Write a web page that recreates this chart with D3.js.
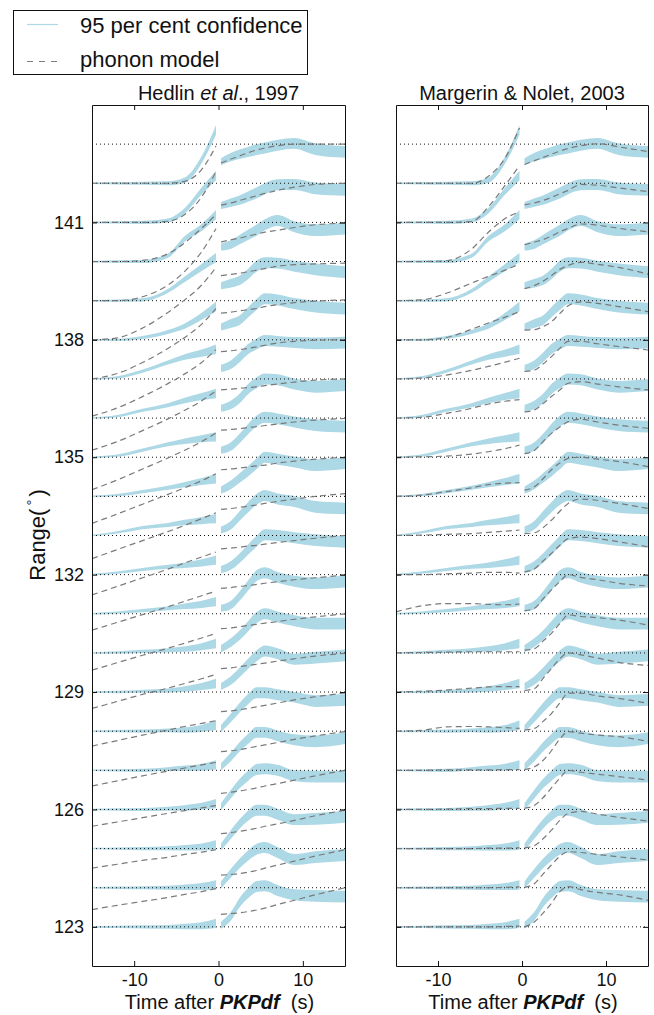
<!DOCTYPE html>
<meta charset="utf-8">
<body style="margin:0;background:#fff">
<script src="https://d3js.org/d3.v7.min.js"></script>
<div id="chart"></div>
<script>

// ranges (lower baseline of each trace), ticks
var ranges = [123,124,125,126,127,128,129,130,131,132,133,134,135,136,137,138,139,140,141,142];
var baselines = [123,124,125,126,127,128,129,130,131,132,133,134,135,136,137,138,139,140,141,142,143];
var yTicks = [123,126,129,132,135,138,141];
var xTicks = [-10,0,10];

// sample times before / after PKPdf
var tPre = [-15,-12,-9,-6,-4,-2,-0.3];
var tPost = [0.3,1.5,2.5,3.5,4.5,5.5,7,9,11.5,15];

// half width of the 95 per cent band
var halfPre = [0.02,0.03,0.04,0.05,0.07,0.09,0.12];
var halfPost = [0.09,0.11,0.12,0.13,0.14,0.14,0.14,0.14,0.15,0.15];

// observed stacks (centre of band), one row per range, 123 -> 142
var obsPre = [
  [0,0,0,0,0.01,0.03,0.09],
  [0,0,0,0,0.01,0.03,0.07],
  [0,0,0,0.01,0.02,0.04,0.09],
  [0,0,0,0.02,0.04,0.08,0.15],
  [0,0,0,0.03,0.05,0.08,0.14],
  [0,0,0,0.02,0.03,0.07,0.15],
  [0,0,0.02,0.04,0.08,0.14,0.22],
  [0,0.01,0.04,0.07,0.1,0.16,0.24],
  [0,0.03,0.08,0.14,0.19,0.24,0.31],
  [0,0.05,0.13,0.2,0.24,0.3,0.37],
  [0,0.08,0.2,0.27,0.33,0.38,0.43],
  [0,0.03,0.12,0.22,0.3,0.38,0.45],
  [0,0.04,0.18,0.33,0.41,0.47,0.52],
  [0,0.05,0.2,0.33,0.45,0.55,0.63],
  [0,0.04,0.2,0.42,0.56,0.66,0.76],
  [0,0,0.06,0.2,0.35,0.6,0.85],
  [0,0,0.02,0.25,0.55,0.85,1.1],
  [0,0,0,0.15,0.58,0.87,1.2],
  [0,0,0,0.05,0.3,0.8,1.2],
  [0,0,0,0,0.08,0.6,1.36]
];
var obsPost = [
  [0.04,0.28,0.62,0.86,1.03,1.05,0.93,0.82,0.79,0.77],
  [0.07,0.38,0.62,0.82,0.98,1.03,0.9,0.72,0.78,0.83],
  [0.04,0.37,0.63,0.84,0.98,0.98,0.88,0.74,0.76,0.81],
  [0.07,0.4,0.66,0.86,1.02,1.04,1.0,0.86,0.84,0.84],
  [0.09,0.35,0.6,0.8,0.97,0.97,0.88,0.78,0.74,0.82],
  [0.07,0.35,0.6,0.82,0.98,0.98,0.93,0.87,0.77,0.8],
  [0.14,0.3,0.5,0.72,0.92,1.05,0.98,0.84,0.88,0.94],
  [0.11,0.27,0.45,0.68,0.9,1.0,0.92,0.82,0.75,0.75],
  [0.14,0.23,0.45,0.72,0.97,1.05,0.93,0.83,0.78,0.82],
  [0.13,0.24,0.42,0.64,0.85,1.02,1.0,0.94,0.88,0.84],
  [0.14,0.27,0.5,0.72,0.92,1.02,0.93,0.87,0.73,0.69],
  [0.16,0.3,0.47,0.64,0.83,1.0,0.95,0.88,0.8,0.85],
  [0.18,0.28,0.48,0.72,0.92,1.02,0.98,0.9,0.82,0.78],
  [0.25,0.34,0.5,0.74,0.9,1.0,0.98,0.87,0.8,0.84],
  [0.27,0.37,0.55,0.76,0.89,0.98,0.96,0.93,0.91,0.93],
  [0.33,0.42,0.5,0.7,0.9,1.05,1.02,0.93,0.85,0.8],
  [0.38,0.45,0.52,0.68,0.88,0.97,0.96,0.88,0.8,0.73],
  [0.37,0.44,0.56,0.68,0.8,0.94,1.05,0.89,0.8,0.84],
  [0.43,0.51,0.57,0.66,0.75,0.86,0.96,0.97,0.87,0.83],
  [0.55,0.67,0.74,0.8,0.86,0.9,0.97,1.02,0.87,0.8]
];

// phonon model, Hedlin et al. 1997
var hedlinPre = [
  [0.44,0.55,0.65,0.75,0.83,0.9,0.98],
  [0.5,0.6,0.7,0.78,0.85,0.91,0.97],
  [0.57,0.68,0.79,0.9,0.97,1.04,1.1],
  [0.6,0.73,0.86,0.98,1.06,1.14,1.2],
  [0.62,0.76,0.9,1.03,1.12,1.2,1.27],
  [0.58,0.76,0.94,1.1,1.22,1.34,1.45],
  [0.56,0.75,0.94,1.12,1.25,1.38,1.5],
  [0.58,0.78,0.98,1.18,1.32,1.46,1.58],
  [0.48,0.7,0.92,1.14,1.3,1.45,1.58],
  [0.41,0.64,0.87,1.1,1.26,1.43,1.58],
  [0.31,0.55,0.8,1.05,1.22,1.4,1.58],
  [0.17,0.42,0.7,0.98,1.18,1.4,1.62],
  [0.18,0.4,0.68,0.98,1.2,1.44,1.7],
  [0.05,0.26,0.55,0.88,1.13,1.42,1.75],
  [0,0.14,0.42,0.78,1.06,1.4,1.8],
  [0,0.05,0.3,0.7,1.02,1.4,1.85],
  [0,0,0.1,0.4,0.75,1.25,1.84],
  [0,0,0.03,0.2,0.48,0.85,1.2],
  [0,0,0,0.03,0.2,0.65,1.3],
  [0,0,0,0,0.05,0.35,0.95]
];
var hedlinPost = [
  [0.32,0.34,0.36,0.39,0.43,0.48,0.57,0.68,0.82,1.0],
  [0.32,0.34,0.36,0.4,0.44,0.5,0.58,0.68,0.81,0.97],
  [0.38,0.41,0.44,0.48,0.52,0.57,0.63,0.72,0.84,0.98],
  [0.41,0.44,0.47,0.51,0.55,0.6,0.66,0.75,0.86,1.0],
  [0.48,0.5,0.53,0.57,0.61,0.65,0.71,0.79,0.88,0.99],
  [0.5,0.52,0.55,0.58,0.62,0.66,0.72,0.8,0.88,0.98],
  [0.6,0.62,0.65,0.68,0.71,0.74,0.79,0.85,0.92,0.99],
  [0.62,0.64,0.67,0.7,0.73,0.76,0.8,0.86,0.92,1.0],
  [0.65,0.67,0.7,0.72,0.75,0.78,0.82,0.87,0.92,0.99],
  [0.66,0.68,0.7,0.73,0.75,0.78,0.82,0.87,0.93,1.0],
  [0.67,0.69,0.72,0.75,0.78,0.82,0.87,0.93,1.0,1.07],
  [0.68,0.7,0.72,0.75,0.78,0.8,0.85,0.9,0.95,1.0],
  [0.69,0.71,0.73,0.76,0.78,0.81,0.85,0.9,0.95,0.99],
  [0.72,0.74,0.76,0.78,0.8,0.83,0.87,0.92,0.97,1.0],
  [0.7,0.72,0.75,0.78,0.82,0.86,0.92,0.96,0.99,1.0],
  [0.68,0.71,0.74,0.77,0.8,0.85,0.9,0.95,0.99,1.02],
  [0.64,0.67,0.7,0.74,0.78,0.82,0.88,0.92,0.94,0.96],
  [0.5,0.56,0.6,0.65,0.7,0.75,0.8,0.87,0.94,0.98],
  [0.44,0.5,0.56,0.62,0.68,0.74,0.82,0.9,0.97,1.0],
  [0.52,0.62,0.7,0.78,0.85,0.9,0.96,1.0,1.0,1.0]
];

// phonon model, Margerin & Nolet 2003
var margerinPre = [
  [0,0,0,0,0,0.01,0.02],
  [0,0,0,0,0,0.01,0.02],
  [0,0,0,0,0.01,0.01,0.02],
  [0,0,0.01,0.02,0.02,0.03,0.03],
  [0,0,0.01,0.01,0.01,0.02,0.02],
  [0,0.02,0.11,0.12,0.11,0.09,0.07],
  [0,0.02,0.05,0.1,0.13,0.14,0.14],
  [0,0.01,0.02,0.03,0.03,0.03,0.03],
  [0.05,0.2,0.26,0.26,0.24,0.23,0.25],
  [0,0,0.02,0.04,0.06,0.06,0.04],
  [0,0.01,0.03,0.05,0.08,0.11,0.14],
  [0,0.03,0.12,0.22,0.3,0.34,0.35],
  [0,0.01,0.03,0.08,0.14,0.22,0.31],
  [0,0.02,0.12,0.25,0.36,0.43,0.47],
  [0,0.02,0.1,0.22,0.32,0.43,0.53],
  [0,0,0.06,0.27,0.43,0.58,0.72],
  [0,0.02,0.19,0.45,0.62,0.78,0.94],
  [0,0,0.02,0.32,0.75,1.1,1.27],
  [0,0,0,0.02,0.4,0.95,1.45],
  [0,0,0,0,0.18,0.65,1.41]
];
var margerinPost = [
  [0.0,0.13,0.35,0.6,0.9,1.03,0.95,0.88,0.82,0.68],
  [0.01,0.11,0.35,0.58,0.8,0.92,0.9,0.85,0.79,0.71],
  [0.02,0.08,0.25,0.47,0.72,0.9,0.95,0.88,0.8,0.7],
  [0.03,0.11,0.3,0.55,0.8,1.0,0.95,0.9,0.84,0.75],
  [0.02,0.09,0.25,0.5,0.8,0.99,0.95,0.9,0.86,0.74],
  [0.03,0.07,0.25,0.45,0.72,0.97,0.97,0.9,0.84,0.71],
  [0.04,0.09,0.35,0.6,0.85,1.0,0.95,0.87,0.76,0.68],
  [0.07,0.11,0.3,0.5,0.75,0.97,0.93,0.9,0.84,0.71],
  [0.08,0.14,0.38,0.61,0.82,1.0,0.93,0.87,0.78,0.71],
  [0.07,0.15,0.35,0.54,0.75,0.92,0.96,0.92,0.84,0.71],
  [0.05,0.07,0.2,0.39,0.62,0.82,0.93,0.9,0.82,0.69],
  [0.16,0.25,0.45,0.68,0.85,0.97,1.0,0.95,0.89,0.76],
  [0.09,0.18,0.4,0.61,0.77,0.91,0.97,0.9,0.82,0.74],
  [0.16,0.21,0.37,0.55,0.72,0.89,0.93,0.87,0.8,0.72],
  [0.19,0.23,0.38,0.57,0.78,0.96,0.96,0.9,0.83,0.74],
  [0.25,0.26,0.34,0.46,0.67,0.87,0.97,0.93,0.85,0.72],
  [0.31,0.39,0.5,0.64,0.8,0.9,0.98,0.93,0.85,0.68],
  [0.43,0.5,0.56,0.65,0.76,0.85,0.96,0.93,0.85,0.76],
  [0.45,0.5,0.56,0.64,0.73,0.82,0.97,0.95,0.88,0.79],
  [0.48,0.58,0.66,0.74,0.82,0.89,0.96,1.01,0.93,0.81]
];

var W = 654, H = 1015;
var plotTop = 105, plotBottom = 966;
var font = "'Liberation Sans', Arial, Helvetica, sans-serif";
var blue = "#add8e6", grey = "#7a7a7a";

var svg = d3.select("#chart").append("svg")
    .attr("width", W)
    .attr("height", H)
    .style("font-family", font);

var y = d3.scaleLinear().domain([122, 144]).range([plotBottom, plotTop]);

var panels = [
  {left: 92, right: 345, pre: hedlinPre, post: hedlinPost},
  {left: 396, right: 648, pre: margerinPre, post: margerinPost}
];

function toPts(times, vals, half) {
  return times.map(function(t, i) { return {t: t, v: vals[i], h: half ? half[i] : 0}; });
}

panels.forEach(function(p, pi) {
  var x = d3.scaleLinear().domain([-15, 15]).range([p.left, p.right]);

  svg.append("clipPath").attr("id", "clip" + pi)
    .append("rect")
      .attr("x", p.left).attr("y", plotTop)
      .attr("width", p.right - p.left).attr("height", plotBottom - plotTop);

  var g = svg.append("g").attr("clip-path", "url(#clip" + pi + ")");

  // 95 per cent bands
  ranges.forEach(function(b, i) {
    var area = d3.area()
      .x(function(d) { return x(d.t); })
      .y0(function(d) { return y(b + d.v - d.h); })
      .y1(function(d) { return y(b + d.v + d.h); })
      .curve(d3.curveMonotoneX);
    g.append("path").datum(toPts(tPre, obsPre[i], halfPre))
      .attr("d", area).attr("fill", blue);
    g.append("path").datum(toPts(tPost, obsPost[i], halfPost))
      .attr("d", area).attr("fill", blue);
  });

  // dotted baselines
  g.selectAll(".base")
    .data(baselines)
    .join("line")
      .attr("x1", p.left).attr("x2", p.right)
      .attr("y1", function(d) { return y(d); })
      .attr("y2", function(d) { return y(d); })
      .attr("stroke", "#111")
      .attr("stroke-width", 1)
      .attr("stroke-dasharray", "1,3");

  // model curves
  ranges.forEach(function(b, i) {
    var line = d3.line()
      .x(function(d) { return x(d.t); })
      .y(function(d) { return y(b + d.v); })
      .curve(d3.curveMonotoneX);
    [toPts(tPre, p.pre[i]), toPts(tPost, p.post[i])].forEach(function(pts) {
      g.append("path").datum(pts)
        .attr("d", line)
        .attr("fill", "none")
        .attr("stroke", grey)
        .attr("stroke-width", 1.2)
        .attr("stroke-dasharray", "6,4");
    });
  });

  // axes, ticks pointing inwards
  var ax = svg.append("g");
  ax.append("g").attr("transform", "translate(" + p.left + ",0)")
    .call(d3.axisLeft(y).tickValues(yTicks).tickSize(-5).tickSizeOuter(0).tickPadding(8)
      .tickFormat(pi === 0 ? d3.format("d") : function() { return ""; }));
  ax.append("g").attr("transform", "translate(" + p.right + ",0)")
    .call(d3.axisRight(y).tickValues(yTicks).tickSize(-5).tickSizeOuter(0).tickFormat(""));
  ax.append("g").attr("transform", "translate(0," + plotTop + ")")
    .call(d3.axisTop(x).tickValues(xTicks).tickSize(-5).tickSizeOuter(0).tickFormat(""));
  ax.append("g").attr("transform", "translate(0," + plotBottom + ")")
    .call(d3.axisBottom(x).tickValues(xTicks).tickSize(-5).tickSizeOuter(0).tickPadding(7)
      .tickFormat(function(d) { return d < 0 ? "-" + Math.abs(d) : d; }));
  ax.selectAll("text").style("font-family", font).style("font-size", "18px").attr("fill", "#111");
  ax.selectAll("path, line").attr("stroke", "#111");

  // x label
  var xl = svg.append("text")
    .attr("x", (p.left + p.right) / 2 + 1)
    .attr("y", 1009)
    .attr("text-anchor", "middle")
    .style("font-size", "20px")
    .attr("fill", "#111");
  xl.append("tspan").text("Time after ");
  xl.append("tspan").text("PKPdf").style("font-weight", "bold").style("font-style", "italic");
  xl.append("tspan").text("\u00a0\u00a0(s)");
});

// titles
svg.append("text").attr("x", 218.5).attr("y", 100).attr("text-anchor", "middle")
  .style("font-size", "20px").attr("fill", "#111")
  .call(function(t) {
    t.append("tspan").text("Hedlin ");
    t.append("tspan").text("et al").style("font-style", "italic");
    t.append("tspan").text("., 1997");
  });
svg.append("text").attr("x", 522).attr("y", 100).attr("text-anchor", "middle")
  .style("font-size", "20px").attr("fill", "#111")
  .text("Margerin & Nolet, 2003");

// y label
svg.append("text")
  .attr("transform", "translate(45,535) rotate(-90)")
  .attr("text-anchor", "middle")
  .style("font-size", "22px")
  .attr("fill", "#111")
  .call(function(t) {
    t.append("tspan").text("Range(");
    t.append("tspan").text("\u00b0").attr("dy", -8).style("font-size", "15px").attr("dx", 3);
    t.append("tspan").text(")").attr("dy", 8).attr("dx", 3);
  });

// legend
var leg = svg.append("g");
leg.append("rect").attr("x", 13.5).attr("y", 10.5).attr("width", 294).attr("height", 64)
  .attr("fill", "#fff").attr("stroke", "#111");
leg.append("line").attr("x1", 27).attr("x2", 58).attr("y1", 24.5).attr("y2", 24.5)
  .attr("stroke", blue).attr("stroke-width", 1.2);
leg.append("line").attr("x1", 27).attr("x2", 58).attr("y1", 61.5).attr("y2", 61.5)
  .attr("stroke", grey).attr("stroke-width", 1.2).attr("stroke-dasharray", "6,6");
leg.append("text").attr("x", 80).attr("y", 32.5).style("font-size", "22px").attr("fill", "#111")
  .text("95 per cent confidence");
leg.append("text").attr("x", 80).attr("y", 67).style("font-size", "22px").attr("fill", "#111")
  .text("phonon model");

</script>
</body>
